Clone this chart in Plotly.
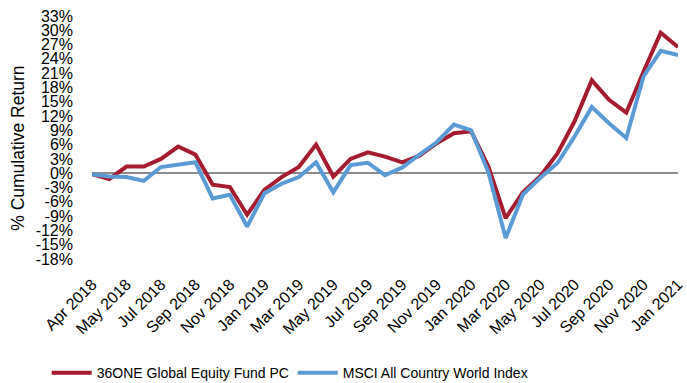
import plotly.graph_objects as go

# Monthly observation index (inception point followed by month ends)
fund_returns = [-0.2, -1.2, 1.4, 1.4, 3.0, 5.6, 3.9, -2.4, -2.9, -8.7, -3.5,
                -0.8, 1.3, 6.0, -0.7, 3.0, 4.4, 3.5, 2.3, 3.7, 6.3, 8.4, 8.8,
                1.4, -9.4, -4.0, -0.7, 4.1, 10.9, 19.5, 15.4, 12.7, 21.3, 29.5, 26.5]
index_returns = [-0.2, -0.7, -0.8, -1.6, 1.3, 1.8, 2.3, -5.3, -4.5, -11.2, -4.2,
                 -2.2, -0.8, 2.3, -4.0, 1.7, 2.2, -0.4, 1.2, 3.9, 6.5, 10.2, 9.0,
                 0.2, -13.6, -4.5, -1.0, 2.1, 7.7, 13.9, 10.5, 7.4, 20.3, 25.7, 24.8]

# Labels shown on every second observation
tick_labels = ["Apr 2018", "May 2018", "Jul 2018", "Sep 2018", "Nov 2018",
               "Jan 2019", "Mar 2019", "May 2019", "Jul 2019", "Sep 2019",
               "Nov 2019", "Jan 2020", "Mar 2020", "May 2020", "Jul 2020",
               "Sep 2020", "Nov 2020", "Jan 2021"]
y_ticks = list(range(-18, 34, 3))

FONT = "Arial, Liberation Sans, sans-serif"
RED = "#A51C30"
BLUE = "#5B9BD5"

x = list(range(len(fund_returns)))
tick_pos = [2 * k for k in range(len(tick_labels))]

fig = go.Figure()
fig.add_trace(go.Scatter(x=x, y=fund_returns, mode="lines",
                         name="36ONE Global Equity Fund PC",
                         line=dict(color=RED, width=4)))
fig.add_trace(go.Scatter(x=x, y=index_returns, mode="lines",
                         name="MSCI All Country World Index",
                         line=dict(color=BLUE, width=4)))

fig.update_layout(
    width=687, height=383,
    margin=dict(l=92, r=1, t=16, b=124),
    paper_bgcolor="white", plot_bgcolor="white",
    font=dict(family=FONT, size=16, color="#000000"),
    showlegend=True,
    legend=dict(orientation="h", xanchor="left", xref="container", x=0.068,
                yref="container", yanchor="middle", y=0.026,
                font=dict(size=14), itemwidth=40, entrywidth=191,
                bgcolor="rgba(0,0,0,0)"),
    annotations=[dict(text="% Cumulative Return", textangle=-90,
                      xref="paper", yref="paper", showarrow=False,
                      x=(17 - 92) / 594, y=(259.4 - 149) / 243.3,
                      xanchor="center", yanchor="middle",
                      font=dict(size=17.5))],
)
fig.update_xaxes(range=[-0.002, len(x) - 1 + 0.002], tickmode="array",
                 tickvals=tick_pos, ticktext=tick_labels, tickangle=-45,
                 showgrid=False, zeroline=False, showline=False,
                 ticks="", ticklabelstandoff=12, ticklabeloverflow="allow",
                 tickfont=dict(size=16))
fig.update_yaxes(range=[-18, 33], tickmode="array", tickvals=y_ticks,
                 ticktext=[f"{v}%" for v in y_ticks],
                 showgrid=False, zeroline=True, zerolinecolor="#8C8C8C",
                 zerolinewidth=1.5, showline=False, ticks="",
                 ticklabelstandoff=18, tickfont=dict(size=16))

fig.write_html("out.html")
